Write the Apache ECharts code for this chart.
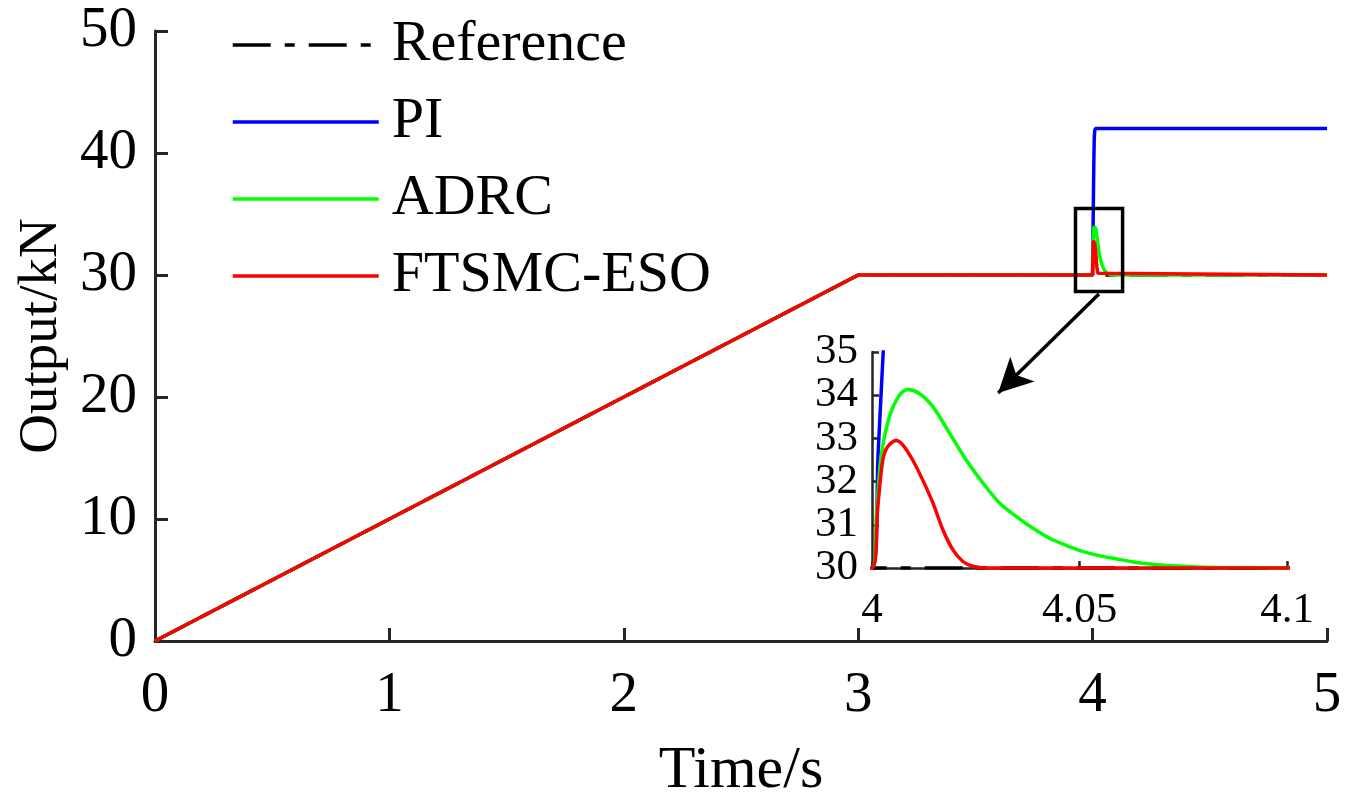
<!DOCTYPE html>
<html>
<head>
<meta charset="utf-8">
<script src="https://cdn.jsdelivr.net/npm/echarts@6/dist/echarts.min.js"></script>
<style>
html, body { margin: 0; padding: 0; background: #fff; }
#chart { width: 1347px; height: 803px; }
</style>
</head>
<body>
<div id="chart"></div>
<script>
// values
var refTime = [0, 3, 5];
var refOut = [0, 30, 30];

var piTime = [0, 3, 4, 4.0015, 4.0027, 4.004, 4.0055, 4.007, 4.009, 4.012, 5];
var piOut = [0, 30, 30, 32.7, 35, 37.2, 39.5, 41.2, 41.8, 42, 42];

var adrcTime = [0, 3, 4, 4.0011, 4.0022, 4.0042, 4.0066, 4.0086, 4.0114, 4.0147, 4.0187, 4.0227,
    4.0268, 4.0308, 4.0348, 4.0388, 4.0428, 4.0469, 4.0509, 4.055, 4.059, 4.063, 4.067, 4.071,
    4.08, 4.09, 4.1, 5];
var adrcOut = [0, 30, 30, 31.3, 32.58, 33.5, 34.0, 34.13, 34.04, 33.73, 33.12, 32.5,
    31.96, 31.5, 31.19, 30.92, 30.69, 30.52, 30.38, 30.28, 30.21, 30.14, 30.09, 30.06,
    30.02, 30.01, 30.0, 30];

var smcTime = [0, 3, 4, 4.0014, 4.0026, 4.0038, 4.0058, 4.0074, 4.0098, 4.0122, 4.0147,
    4.0171, 4.0195, 4.0219, 4.0243, 4.0275, 5];
var smcOut = [0, 30, 30, 31.42, 32.5, 32.81, 32.95, 32.85, 32.5, 32.04, 31.5,
    30.88, 30.42, 30.15, 30.04, 30, 30];

var names = ['Reference', 'PI', 'ADRC', 'FTSMC-ESO'];
var colors = ['#000000', '#0000ff', '#00ff00', '#ff0000'];

// zoom box and arrow (in data units of the main axes)
var boxCorners = [[3.927, 35.45], [4.128, 28.65]];
var arrowEnds = [[4.027, 28.44], [3.597, 20.33]];

function zip(t, y) {
    var out = [];
    for (var i = 0; i < t.length; i++) out.push([t[i], y[i]]);
    return out;
}

var serif = 'Liberation Serif';
var axisColor = '#262626';

function axisStyle(w, len, fs, margin) {
    return {
        axisLine: { show: true, onZero: false, lineStyle: { color: axisColor, width: w } },
        axisTick: { show: true, inside: true, length: len, lineStyle: { color: axisColor, width: w } },
        axisLabel: { fontFamily: serif, fontSize: fs, color: '#000', margin: margin, showMinLabel: true, showMaxLabel: true },
        splitLine: { show: false }
    };
}

var seriesData = [
    zip(refTime, refOut),
    zip(piTime, piOut),
    zip(adrcTime, adrcOut),
    zip(smcTime, smcOut)
];

var series = [];
for (var g = 0; g < 2; g++) {
    for (var i = 0; i < 4; i++) {
        series.push({
            name: names[i],
            type: 'line',
            xAxisIndex: g,
            yAxisIndex: g,
            data: seriesData[i],
            symbol: 'none',
            clip: true,
            smooth: (g === 1 && i > 0) ? 0.3 : false,
            z: 2 + i,
            lineStyle: {
                color: colors[i],
                width: 3.5,
                type: i === 0 ? [38, 14, 10, 14] : 'solid'
            },
            itemStyle: { color: colors[i] }
        });
    }
}

series.push({
    type: 'line',
    xAxisIndex: 0,
    yAxisIndex: 0,
    data: [],
    z: 10,
    markArea: {
        silent: true,
        z: 10,
        label: { show: false },
        itemStyle: { color: 'rgba(0,0,0,0)', borderColor: '#000', borderWidth: 3.5 },
        data: [[{ coord: boxCorners[0] }, { coord: boxCorners[1] }]]
    },
    markLine: {
        silent: true,
        z: 10,
        symbol: ['none', 'arrow'],
        symbolSize: [26, 34],
        label: { show: false },
        lineStyle: { color: '#000', width: 3.5, type: 'solid' },
        data: [[{ coord: arrowEnds[0] }, { coord: arrowEnds[1] }]]
    }
});

var mainX = axisStyle(3, 13, 57, 27);
var mainY = axisStyle(3, 13, 57, 18);
var inX = axisStyle(2.5, 7, 43, 21);
var inY = axisStyle(2.5, 7, 43, 14);

var option = {
    animation: false,
    backgroundColor: '#fff',
    legend: {
        data: names,
        orient: 'vertical',
        left: 226,
        top: 11,
        itemWidth: 146,
        itemHeight: 20,
        itemGap: 19,
        itemStyle: { opacity: 0 },
        lineStyle: { width: 3.5 },
        textStyle: { fontFamily: serif, fontSize: 58, color: '#000', padding: [0, 0, 0, 8] },
        selectedMode: false
    },
    grid: [
        { left: 155, right: 20, top: 31, bottom: 162, outerBoundsMode: 'none' },
        { left: 872, right: 60, top: 352, bottom: 235, outerBoundsMode: 'none' }
    ],
    xAxis: [
        Object.assign({ type: 'value', gridIndex: 0, min: 0, max: 5, interval: 1,
            name: 'Time/s', nameLocation: 'middle', nameGap: 100,
            nameTextStyle: { fontFamily: serif, fontSize: 60, color: '#000' } }, mainX),
        Object.assign({ type: 'value', gridIndex: 1, min: 4, max: 4.1, interval: 0.05 }, inX)
    ],
    yAxis: [
        Object.assign({ type: 'value', gridIndex: 0, min: 0, max: 50, interval: 10,
            name: 'Output/kN', nameLocation: 'middle', nameGap: 78,
            nameTextStyle: { fontFamily: serif, fontSize: 55, color: '#000' } }, mainY),
        Object.assign({ type: 'value', gridIndex: 1, min: 30, max: 35, interval: 1 }, inY)
    ],
    series: series
};

var myChart = echarts.init(document.getElementById('chart'));
myChart.setOption(option);
</script>
</body>
</html>
